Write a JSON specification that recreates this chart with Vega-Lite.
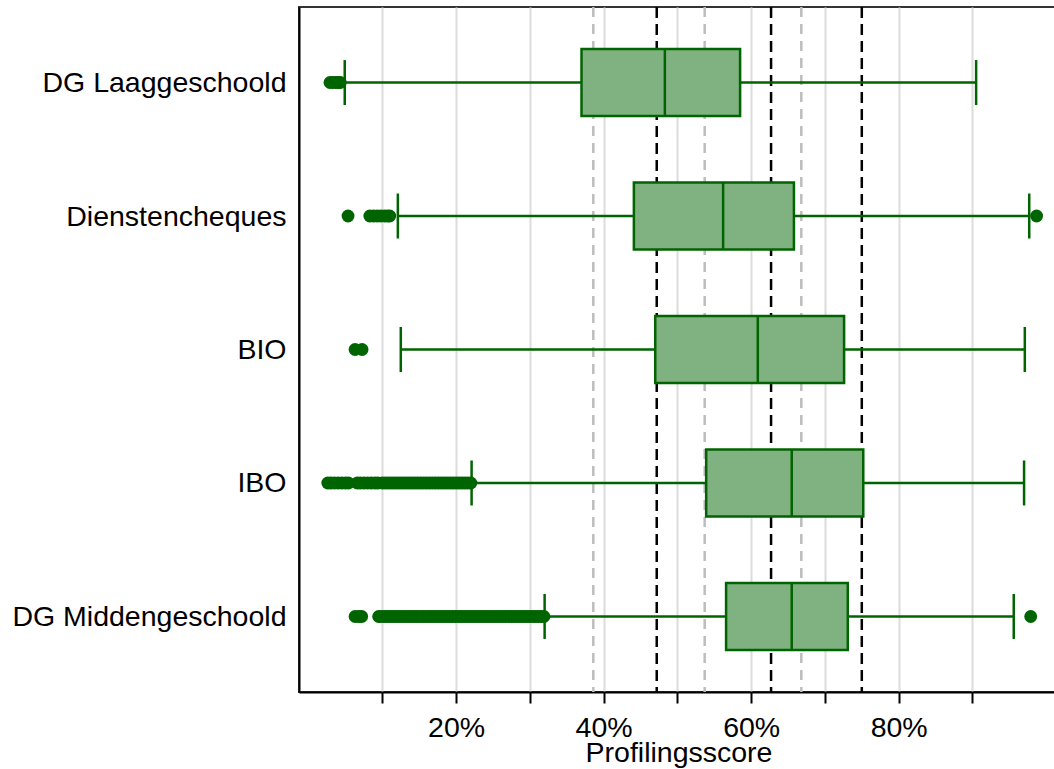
{
  "$schema": "https://vega.github.io/schema/vega-lite/v6.json",
  "autosize": "none",
  "padding": {"left": 299, "top": 7, "right": 0, "bottom": 77},
  "width": 759,
  "height": 685,
  "background": "white",
  "config": {
    "font": "Liberation Sans",
    "view": {"stroke": "#333333", "strokeWidth": 2}
  },
  "datasets": {
    "boxes": [
      {"groep": "DG Laaggeschoold", "lo": 4.9, "q1": 37.0, "med": 48.3, "q3": 58.5, "hi": 90.5},
      {"groep": "Dienstencheques", "lo": 12.1, "q1": 44.1, "med": 56.2, "q3": 65.8, "hi": 97.7},
      {"groep": "BIO", "lo": 12.5, "q1": 47.0, "med": 60.9, "q3": 72.6, "hi": 97.1},
      {"groep": "IBO", "lo": 22.1, "q1": 53.9, "med": 65.5, "q3": 75.2, "hi": 97.0},
      {"groep": "DG Middengeschoold", "lo": 32.0, "q1": 56.6, "med": 65.5, "q3": 73.1, "hi": 95.6}
    ],
    "refGray": [{"v": 38.6}, {"v": 53.7}, {"v": 66.8}],
    "refBlack": [{"v": 47.2}, {"v": 62.7}, {"v": 75.0}],
    "outliers": [
      {"groep": "DG Laaggeschoold", "v": 2.9}, {"groep": "DG Laaggeschoold", "v": 3.3}, {"groep": "DG Laaggeschoold", "v": 3.7}, {"groep": "DG Laaggeschoold", "v": 4.0}, {"groep": "DG Laaggeschoold", "v": 4.3},
      {"groep": "Dienstencheques", "v": 5.35}, {"groep": "Dienstencheques", "v": 8.3}, {"groep": "Dienstencheques", "v": 8.8}, {"groep": "Dienstencheques", "v": 9.3}, {"groep": "Dienstencheques", "v": 9.8}, {"groep": "Dienstencheques", "v": 10.3}, {"groep": "Dienstencheques", "v": 10.7}, {"groep": "Dienstencheques", "v": 11.0}, {"groep": "Dienstencheques", "v": 98.7},
      {"groep": "BIO", "v": 6.3}, {"groep": "BIO", "v": 7.25},
      {"groep": "IBO", "v": 2.6}, {"groep": "IBO", "v": 3.0}, {"groep": "IBO", "v": 3.5}, {"groep": "IBO", "v": 4.0}, {"groep": "IBO", "v": 4.5}, {"groep": "IBO", "v": 5.0}, {"groep": "IBO", "v": 5.4},
      {"groep": "IBO", "v": 6.6}, {"groep": "IBO", "v": 7.0}, {"groep": "IBO", "v": 7.5}, {"groep": "IBO", "v": 8.0}, {"groep": "IBO", "v": 8.5}, {"groep": "IBO", "v": 9.0}, {"groep": "IBO", "v": 9.4},
      {"groep": "IBO", "v": 10.0}, {"groep": "IBO", "v": 10.4}, {"groep": "IBO", "v": 10.8}, {"groep": "IBO", "v": 11.2}, {"groep": "IBO", "v": 11.6}, {"groep": "IBO", "v": 12.0}, {"groep": "IBO", "v": 12.4}, {"groep": "IBO", "v": 12.8}, {"groep": "IBO", "v": 13.2}, {"groep": "IBO", "v": 13.6},
      {"groep": "IBO", "v": 14.0}, {"groep": "IBO", "v": 14.4}, {"groep": "IBO", "v": 14.8}, {"groep": "IBO", "v": 15.2}, {"groep": "IBO", "v": 15.6}, {"groep": "IBO", "v": 16.0}, {"groep": "IBO", "v": 16.4}, {"groep": "IBO", "v": 16.8}, {"groep": "IBO", "v": 17.2}, {"groep": "IBO", "v": 17.6},
      {"groep": "IBO", "v": 18.0}, {"groep": "IBO", "v": 18.4}, {"groep": "IBO", "v": 18.8}, {"groep": "IBO", "v": 19.2}, {"groep": "IBO", "v": 19.6}, {"groep": "IBO", "v": 20.0}, {"groep": "IBO", "v": 20.4}, {"groep": "IBO", "v": 20.8}, {"groep": "IBO", "v": 21.2}, {"groep": "IBO", "v": 21.6}, {"groep": "IBO", "v": 22.0},
      {"groep": "DG Middengeschoold", "v": 6.3}, {"groep": "DG Middengeschoold", "v": 6.8}, {"groep": "DG Middengeschoold", "v": 7.2},
      {"groep": "DG Middengeschoold", "v": 9.5}, {"groep": "DG Middengeschoold", "v": 9.9}, {"groep": "DG Middengeschoold", "v": 10.3}, {"groep": "DG Middengeschoold", "v": 10.7}, {"groep": "DG Middengeschoold", "v": 11.1}, {"groep": "DG Middengeschoold", "v": 11.5}, {"groep": "DG Middengeschoold", "v": 11.9},
      {"groep": "DG Middengeschoold", "v": 12.3}, {"groep": "DG Middengeschoold", "v": 12.7}, {"groep": "DG Middengeschoold", "v": 13.1}, {"groep": "DG Middengeschoold", "v": 13.5}, {"groep": "DG Middengeschoold", "v": 13.9}, {"groep": "DG Middengeschoold", "v": 14.3}, {"groep": "DG Middengeschoold", "v": 14.7},
      {"groep": "DG Middengeschoold", "v": 15.1}, {"groep": "DG Middengeschoold", "v": 15.5}, {"groep": "DG Middengeschoold", "v": 15.9}, {"groep": "DG Middengeschoold", "v": 16.3}, {"groep": "DG Middengeschoold", "v": 16.7}, {"groep": "DG Middengeschoold", "v": 17.1}, {"groep": "DG Middengeschoold", "v": 17.5},
      {"groep": "DG Middengeschoold", "v": 17.9}, {"groep": "DG Middengeschoold", "v": 18.3}, {"groep": "DG Middengeschoold", "v": 18.7}, {"groep": "DG Middengeschoold", "v": 19.1}, {"groep": "DG Middengeschoold", "v": 19.5}, {"groep": "DG Middengeschoold", "v": 19.9}, {"groep": "DG Middengeschoold", "v": 20.3},
      {"groep": "DG Middengeschoold", "v": 20.7}, {"groep": "DG Middengeschoold", "v": 21.1}, {"groep": "DG Middengeschoold", "v": 21.5}, {"groep": "DG Middengeschoold", "v": 21.9}, {"groep": "DG Middengeschoold", "v": 22.3}, {"groep": "DG Middengeschoold", "v": 22.7}, {"groep": "DG Middengeschoold", "v": 23.1},
      {"groep": "DG Middengeschoold", "v": 23.5}, {"groep": "DG Middengeschoold", "v": 23.9}, {"groep": "DG Middengeschoold", "v": 24.3}, {"groep": "DG Middengeschoold", "v": 24.7}, {"groep": "DG Middengeschoold", "v": 25.1}, {"groep": "DG Middengeschoold", "v": 25.5}, {"groep": "DG Middengeschoold", "v": 25.9},
      {"groep": "DG Middengeschoold", "v": 26.3}, {"groep": "DG Middengeschoold", "v": 26.7}, {"groep": "DG Middengeschoold", "v": 27.1}, {"groep": "DG Middengeschoold", "v": 27.5}, {"groep": "DG Middengeschoold", "v": 27.9}, {"groep": "DG Middengeschoold", "v": 28.3}, {"groep": "DG Middengeschoold", "v": 28.7},
      {"groep": "DG Middengeschoold", "v": 29.1}, {"groep": "DG Middengeschoold", "v": 29.5}, {"groep": "DG Middengeschoold", "v": 29.9}, {"groep": "DG Middengeschoold", "v": 30.3}, {"groep": "DG Middengeschoold", "v": 30.7}, {"groep": "DG Middengeschoold", "v": 31.1}, {"groep": "DG Middengeschoold", "v": 31.5}, {"groep": "DG Middengeschoold", "v": 31.9},
      {"groep": "DG Middengeschoold", "v": 97.9}
    ]
  },
  "layer": [
    {
      "data": {"name": "refGray"},
      "mark": {"type": "rule", "color": "#bdbdbd", "strokeWidth": 2.5, "strokeDash": [10, 7]},
      "encoding": {
        "x": {
          "field": "v", "type": "quantitative",
          "scale": {"domain": [-1.3, 101.6], "nice": false, "zero": false},
          "axis": {
            "values": [10, 20, 30, 40, 50, 60, 70, 80, 90],
            "labelExpr": "datum.value % 20 == 0 ? datum.value + '%' : ''",
            "grid": true, "gridColor": "#dcdcdc", "gridWidth": 2,
            "domainColor": "black", "domainWidth": 2,
            "tickColor": "black", "tickWidth": 2, "tickSize": 11,
            "labelFontSize": 28.5, "labelColor": "black", "labelPadding": 10, "labelFont": "Liberation Sans",
            "labelOverlap": false,
            "title": "Profilingsscore", "titleFontSize": 28.5, "titleFontWeight": "normal", "titleColor": "black",
            "titleFont": "Liberation Sans", "titlePadding": -3
          }
        }
      }
    },
    {
      "data": {"name": "refBlack"},
      "mark": {"type": "rule", "color": "black", "strokeWidth": 2.5, "strokeDash": [11, 6]},
      "encoding": {"x": {"field": "v", "type": "quantitative"}}
    },
    {
      "data": {"name": "boxes"},
      "mark": {"type": "rule", "color": "#006400", "strokeWidth": 2.5},
      "encoding": {
        "x": {"field": "lo", "type": "quantitative"},
        "x2": {"field": "hi"},
        "y": {
          "field": "groep", "type": "nominal",
          "sort": ["DG Laaggeschoold", "Dienstencheques", "BIO", "IBO", "DG Middengeschoold"],
          "scale": {"type": "point", "padding": 0.566},
          "axis": {
            "title": null, "ticks": false, "grid": false,
            "domainColor": "black", "domainWidth": 2,
            "labelFontSize": 28.5, "labelColor": "black", "labelPadding": 13, "labelFont": "Liberation Sans",
            "labelLimit": 400
          }
        }
      }
    },
    {
      "data": {"name": "boxes"},
      "mark": {"type": "bar", "size": 67, "fill": "#80b180", "stroke": "#006400", "strokeWidth": 2.5},
      "encoding": {
        "x": {"field": "q1", "type": "quantitative"},
        "x2": {"field": "q3"},
        "y": {"field": "groep", "type": "nominal", "sort": ["DG Laaggeschoold", "Dienstencheques", "BIO", "IBO", "DG Middengeschoold"]}
      }
    },
    {
      "data": {"name": "boxes"},
      "mark": {"type": "tick", "size": 67, "thickness": 2.5, "color": "#006400", "opacity": 1},
      "encoding": {
        "x": {"field": "med", "type": "quantitative"},
        "y": {"field": "groep", "type": "nominal", "sort": ["DG Laaggeschoold", "Dienstencheques", "BIO", "IBO", "DG Middengeschoold"]}
      }
    },
    {
      "data": {"name": "boxes"},
      "mark": {"type": "tick", "size": 45, "thickness": 2.5, "color": "#006400", "opacity": 1},
      "encoding": {
        "x": {"field": "lo", "type": "quantitative"},
        "y": {"field": "groep", "type": "nominal", "sort": ["DG Laaggeschoold", "Dienstencheques", "BIO", "IBO", "DG Middengeschoold"]}
      }
    },
    {
      "data": {"name": "boxes"},
      "mark": {"type": "tick", "size": 45, "thickness": 2.5, "color": "#006400", "opacity": 1},
      "encoding": {
        "x": {"field": "hi", "type": "quantitative"},
        "y": {"field": "groep", "type": "nominal", "sort": ["DG Laaggeschoold", "Dienstencheques", "BIO", "IBO", "DG Middengeschoold"]}
      }
    },
    {
      "data": {"name": "outliers"},
      "mark": {"type": "circle", "size": 165, "color": "#006400", "opacity": 1},
      "encoding": {
        "x": {"field": "v", "type": "quantitative"},
        "y": {"field": "groep", "type": "nominal", "sort": ["DG Laaggeschoold", "Dienstencheques", "BIO", "IBO", "DG Middengeschoold"]}
      }
    }
  ]
}
